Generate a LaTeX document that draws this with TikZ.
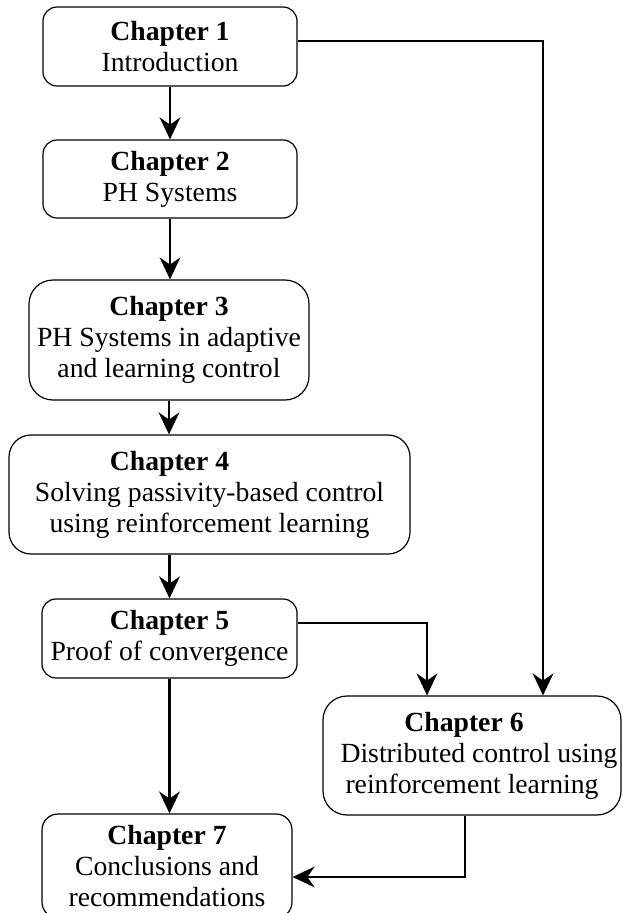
\documentclass[tikz,border=0pt]{standalone}
\usepackage{fontspec}
\setmainfont{Liberation Serif}
\usepackage{tikz}
\usetikzlibrary{arrows.meta, positioning}

\tikzset{
  chap/.style={draw, line width=0.85pt, rounded corners=0.35cm, inner sep=0pt,
    align=center, font=\fontsize{19.7}{22}\selectfont},
  arr/.style={line width=1.5pt, -{Stealth[length=0.55cm, width=0.52cm, inset=0.18cm]}}
}

\begin{document}
\begin{tikzpicture}
\color{black}
\useasboundingbox (0,0) rectangle (15.55,-22.825);

\node[chap, minimum width=6.35cm, minimum height=1.975cm] (C1) at (4.25,-1.1625) {\textbf{Chapter 1}\\Introduction};
\node[chap, minimum width=6.35cm, minimum height=1.95cm] (C2) at (4.25,-4.475) {\textbf{Chapter 2}\\PH Systems};
\node[chap, rounded corners=0.6cm, minimum width=7cm, minimum height=3cm] (C3) at (4.225,-8.5) {\textbf{Chapter 3}\\PH Systems in adaptive\\and learning control};
\node[chap, rounded corners=0.55cm, minimum width=10.025cm, minimum height=2.975cm] (C4) at (5.2375,-12.3625) {\textbf{Chapter 4}\hspace*{2cm}\\Solving passivity-based control\\using reinforcement learning};
\node[chap, minimum width=6.375cm, minimum height=1.975cm] (C5) at (4.2375,-15.9625) {\textbf{Chapter 5}\\Proof of convergence};
\node[chap, rounded corners=0.6cm, minimum width=7.45cm, minimum height=2.975cm] (C6) at (11.8,-18.8875) {\textbf{Chapter 6}\hspace*{0.4cm}\\\hspace*{0.35cm}Distributed control using\\reinforcement learning};
\node[chap, rounded corners=0.4cm, minimum width=6.25cm, minimum height=2.6cm] (C7) at (4.175,-21.65) {\textbf{Chapter 7}\\Conclusions and\\recommendations};

% main line
\draw[arr] (C1) -- (C2);
\draw[arr] (C2.south) -- (C2.south |- C3.north);
\draw[arr] (C3.south) -- (C3.south |- C4.north);
\draw[arr] (C5.north |- C4.south) -- (C5.north);
\draw[arr] (C5.south) -- (C5.south |- C7.north);

% side branch
\draw[arr] ([yshift=0.14cm]C1.east) -| ([xshift=1.775cm]C6.north);
\draw[arr] ([yshift=0.39cm]C5.east) -| ([xshift=-1.125cm]C6.north);
\draw[arr] ([xshift=-0.175cm]C6.south) |- ([yshift=-0.275cm]C7.east);

\end{tikzpicture}
\end{document}
